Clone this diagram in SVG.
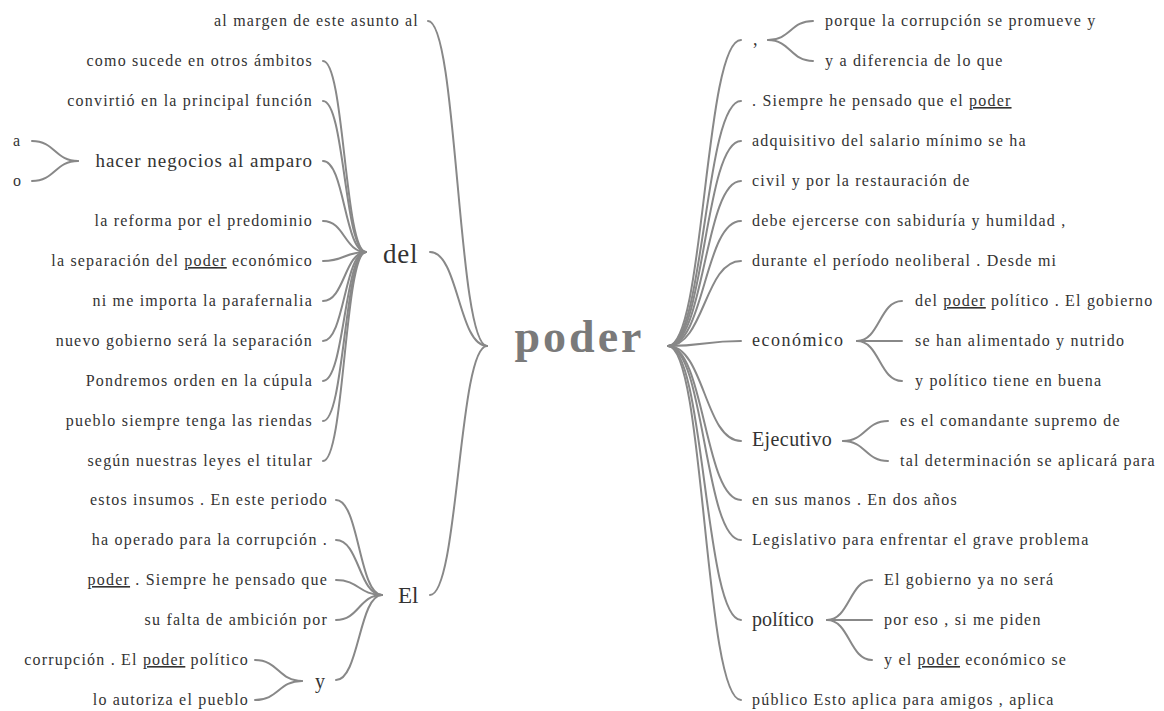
<svg xmlns="http://www.w3.org/2000/svg" width="1164" height="711" viewBox="0 0 1164 711">
<style>
text{font-family:"Liberation Serif","Times New Roman",serif;fill:#333}
.lf{font-size:16px;letter-spacing:1.2px}
.e{text-anchor:end}
.mid{font-size:19px;letter-spacing:1px}
.root{font-size:46px;font-weight:bold;letter-spacing:3px;fill:#7a7a7a;text-anchor:middle}
.u{text-decoration:underline}
#links path{fill:none;stroke:#888;stroke-width:2;stroke-linecap:round}
</style>
<rect width="1164" height="711" fill="#fff"/>
<g id="links">
<!-- left to poder -->
<path d="M428,21 C457.5,21 457.5,346 487,346"/>
<path d="M430,252 C458.5,252 458.5,346 487,346"/>
<path d="M430,595 C458.5,595 458.5,346 487,346"/>
<!-- del children -->
<path d="M323,61 C344.5,61 344.5,252 366,252"/>
<path d="M323,101 C344.5,101 344.5,252 366,252"/>
<path d="M323,161 C344.5,161 344.5,252 366,252"/>
<path d="M323,221 C344.5,221 344.5,252 366,252"/>
<path d="M323,261 C344.5,261 344.5,252 366,252"/>
<path d="M323,301 C344.5,301 344.5,252 366,252"/>
<path d="M323,341 C344.5,341 344.5,252 366,252"/>
<path d="M323,381 C344.5,381 344.5,252 366,252"/>
<path d="M323,421 C344.5,421 344.5,252 366,252"/>
<path d="M323,461 C344.5,461 344.5,252 366,252"/>
<!-- hacer children -->
<path d="M32,141 C55,141 55,161 78,161"/>
<path d="M32,181 C55,181 55,161 78,161"/>
<!-- El children -->
<path d="M336,500 C359,500 359,595 382,595"/>
<path d="M336,540 C359,540 359,595 382,595"/>
<path d="M336,580 C359,580 359,595 382,595"/>
<path d="M336,620 C359,620 359,595 382,595"/>
<path d="M336,680 C359,680 359,595 382,595"/>
<!-- y children -->
<path d="M255,660 C278.5,660 278.5,681 302,681"/>
<path d="M255,700 C278.5,700 278.5,681 302,681"/>
<!-- poder to right -->
<path d="M668,346 C704.5,346 704.5,40 741,40"/>
<path d="M668,346 C704.5,346 704.5,101 741,101"/>
<path d="M668,346 C704.5,346 704.5,141 741,141"/>
<path d="M668,346 C704.5,346 704.5,181 741,181"/>
<path d="M668,346 C704.5,346 704.5,221 741,221"/>
<path d="M668,346 C704.5,346 704.5,261 741,261"/>
<path d="M668,346 C704.5,346 704.5,341 741,341"/>
<path d="M668,346 C704.5,346 704.5,441 741,441"/>
<path d="M668,346 C704.5,346 704.5,500 741,500"/>
<path d="M668,346 C704.5,346 704.5,540 741,540"/>
<path d="M668,346 C704.5,346 704.5,620 741,620"/>
<path d="M668,346 C704.5,346 704.5,700 741,700"/>
<!-- comma children -->
<path d="M768,40 C790.5,40 790.5,21 813,21"/>
<path d="M768,40 C790.5,40 790.5,61 813,61"/>
<!-- economico children -->
<path d="M857,341 C879.5,341 879.5,301 902,301"/>
<path d="M857,341 C879.5,341 879.5,341 902,341"/>
<path d="M857,341 C879.5,341 879.5,381 902,381"/>
<!-- Ejecutivo children -->
<path d="M843,441 C865.5,441 865.5,421 888,421"/>
<path d="M843,441 C865.5,441 865.5,461 888,461"/>
<!-- politico children -->
<path d="M827,620 C849.5,620 849.5,580 872,580"/>
<path d="M827,620 C849.5,620 849.5,620 872,620"/>
<path d="M827,620 C849.5,620 849.5,660 872,660"/>
</g>

<g id="n-poder"><text class="root" x="579.5" y="352">poder</text></g>

<!-- left side -->
<g id="n-almargen"><text class="lf e" x="419" y="26">al margen de este asunto al</text></g>
<g id="n-del"><text x="383" y="263" style="font-size:27px;letter-spacing:0.8px">del</text></g>
<g id="n-del-1"><text class="lf e" x="313" y="66">como sucede en otros ámbitos</text></g>
<g id="n-del-2"><text class="lf e" x="313" y="106">convirtió en la principal función</text></g>
<g id="n-hacer"><text class="mid e" x="313" y="167">hacer negocios al amparo</text></g>
<g id="n-hacer-a"><text class="lf" x="13" y="146">a</text></g>
<g id="n-hacer-o"><text class="lf" x="13" y="186">o</text></g>
<g id="n-del-4"><text class="lf e" x="313" y="226">la reforma por el predominio</text></g>
<g id="n-del-5"><text class="lf e" x="313" y="266">la separación del <tspan class="u">poder</tspan> económico</text></g>
<g id="n-del-6"><text class="lf e" x="313" y="306">ni me importa la parafernalia</text></g>
<g id="n-del-7"><text class="lf e" x="313" y="346">nuevo gobierno será la separación</text></g>
<g id="n-del-8"><text class="lf e" x="313" y="386">Pondremos orden en la cúpula</text></g>
<g id="n-del-9"><text class="lf e" x="313" y="426">pueblo siempre tenga las riendas</text></g>
<g id="n-del-10"><text class="lf e" x="313" y="466">según nuestras leyes el titular</text></g>

<g id="n-El"><text x="398" y="603" style="font-size:23px">El</text></g>
<g id="n-El-1"><text class="lf e" x="328" y="505">estos insumos . En este periodo</text></g>
<g id="n-El-2"><text class="lf e" x="328" y="545">ha operado para la corrupción .</text></g>
<g id="n-El-3"><text class="lf e" x="328" y="585"><tspan class="u">poder</tspan> . Siempre he pensado que</text></g>
<g id="n-El-4"><text class="lf e" x="328" y="625">su falta de ambición por</text></g>
<g id="n-y"><text x="315" y="688" style="font-size:20px">y</text></g>
<g id="n-y-1"><text class="lf e" x="249" y="665">corrupción . El <tspan class="u">poder</tspan> político</text></g>
<g id="n-y-2"><text class="lf e" x="249" y="705">lo autoriza el pueblo</text></g>

<!-- right side -->
<g id="n-comma"><text x="753" y="45" style="font-size:18px">,</text></g>
<g id="n-comma-1"><text class="lf" x="825" y="26">porque la corrupción se promueve y</text></g>
<g id="n-comma-2"><text class="lf" x="825" y="66">y a diferencia de lo que</text></g>
<g id="n-r2"><text class="lf" x="752" y="106">. Siempre he pensado que el <tspan class="u">poder</tspan></text></g>
<g id="n-r3"><text class="lf" x="752" y="146">adquisitivo del salario mínimo se ha</text></g>
<g id="n-r4"><text class="lf" x="752" y="186">civil y por la restauración de</text></g>
<g id="n-r5"><text class="lf" x="752" y="226">debe ejercerse con sabiduría y humildad ,</text></g>
<g id="n-r6"><text class="lf" x="752" y="266">durante el período neoliberal . Desde mi</text></g>
<g id="n-economico"><text x="752" y="346" style="font-size:18px;letter-spacing:1.5px">económico</text></g>
<g id="n-eco-1"><text class="lf" x="915" y="306">del <tspan class="u">poder</tspan> político . El gobierno</text></g>
<g id="n-eco-2"><text class="lf" x="915" y="346">se han alimentado y nutrido</text></g>
<g id="n-eco-3"><text class="lf" x="915" y="386">y político tiene en buena</text></g>
<g id="n-ejecutivo"><text x="752" y="446" style="font-size:20px;letter-spacing:0.4px">Ejecutivo</text></g>
<g id="n-eje-1"><text class="lf" x="900" y="426">es el comandante supremo de</text></g>
<g id="n-eje-2"><text class="lf" x="900" y="466">tal determinación se aplicará para</text></g>
<g id="n-r12"><text class="lf" x="752" y="505">en sus manos . En dos años</text></g>
<g id="n-r13"><text class="lf" x="752" y="545">Legislativo para enfrentar el grave problema</text></g>
<g id="n-politico"><text x="752" y="626" style="font-size:20px;letter-spacing:0.1px">político</text></g>
<g id="n-pol-1"><text class="lf" x="884" y="585">El gobierno ya no será</text></g>
<g id="n-pol-2"><text class="lf" x="884" y="625">por eso , si me piden</text></g>
<g id="n-pol-3"><text class="lf" x="884" y="665">y el <tspan class="u">poder</tspan> económico se</text></g>
<g id="n-r17"><text class="lf" x="752" y="705">público Esto aplica para amigos , aplica</text></g>
</svg>
